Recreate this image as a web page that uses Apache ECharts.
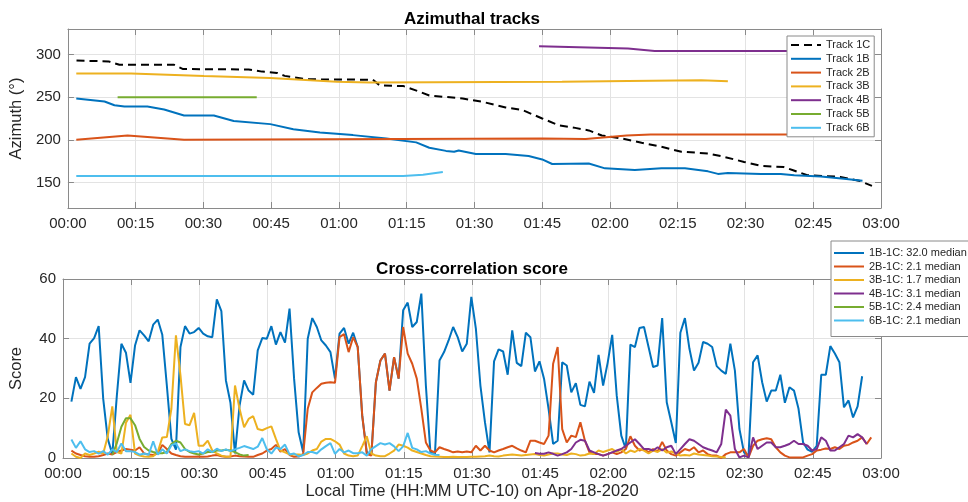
<!DOCTYPE html>
<html><head><meta charset="utf-8">
<script src="https://cdn.jsdelivr.net/npm/echarts@6/dist/echarts.min.js"></script>
<style>html,body{margin:0;padding:0;background:#fff}#c{width:968px;height:502px}</style>
</head><body><div id="c"></div>
<script>
// ---------------- DATA ----------------
// x axis (minutes after 00:00 local time)
const xTickLabels = ['00:00','00:15','00:30','00:45','01:00','01:15','01:30','01:45','02:00','02:15','02:30','02:45','03:00'];
const yTopTicks = [150, 200, 250, 300];
const yBottomTicks = [0, 20, 40, 60];

// Azimuthal tracks: time (min) and azimuth (deg)
const track1C_t  = [1.9,9.0,11.4,23.5,25.5,40,43,46.3,48,52.8,67.5,69,74.3,77,80,87.4,91.8,96.9,100.6,105,108.7,112.3,115.3,118.2,122.6,127,131.4,135.8,141.7,145.3,149.7,153.4,158.5,160.7,163.7,171,175.4,178];
const track1C_az = [293,292,288,288,283,282.5,280,278.5,275,271,270.5,264,263,258,252,248.5,244.5,238,235,225,217,214,211,205,201.6,196.5,191.8,186,184,180,174,169.5,168,164,158.5,156.5,151.6,146];
const track1B_t  = [1.85,8.1,10.3,12.5,17.6,21.3,25.7,32.3,36.7,44.8,49.9,55.8,63.1,70.5,77.1,80,83.7,85.5,86.5,90.3,96.9,102,105,107.2,115.3,118.9,125.5,131.4,136.6,141.7,143.9,146.1,153.4,157.8,160.8,166.7,171.8,175.9];
const track1B_az = [248.5,245,240.6,239,239,235.6,228.6,228.6,222,218.4,212.5,208.6,205.5,201.6,197,190.7,187,186,187.5,183.3,183.3,181,177,171.6,172.3,166.5,164.5,166.5,166.5,163,160,161,160,160,158.4,157,154.3,152];
const track2B_t  = [1.85,13.2,25.7,105,114.6,123.7,129,176];
const track2B_az = [200,205,200,201.5,201,205,206.2,206.2];
const track3B_t  = [1.85,14,30.1,44.8,59.5,66.8,109.4,124,140.2,146.1];
const track3B_az = [277.8,277.8,275,272.6,268,267.2,268,269,270,268.7];
const track4B_t  = [104.3,124,129.9,176];
const track4B_az = [309.7,307,304.3,304.3];
const track5B_t  = [11,41.8];
const track5B_az = [250,250];
const track6B_t  = [1.85,74.2,78.6,83];
const track6B_az = [157.6,157.6,159,162.3];

// Cross-correlation scores, one sample per minute starting at sampleStartMin
const sampleStartMin = 1.85;
const sampleStepMin = 1;
const score1B_start = 0;
const score1B = [18.9,27.1,23.2,27.1,38.3,40.2,44.2,19.8,6.4,1.3,
20.9,38.3,35.3,25.2,37.7,42.8,41.1,39.1,44.7,46.4,
41.3,24.3,6.4,2.8,37.2,44.2,41.7,42.2,43.6,41.7,
40.8,40.5,53.2,49.2,26,18.5,1.5,17.6,26,22.6,
21.2,36.1,40.2,40,44.2,38,42.2,38.7,50.1,26.6,
8.6,1.9,40,46.9,43.9,39.4,37.7,35.5,26.6,41.7,
43.6,38.3,42,37.2,14,2,1,25.4,32.7,35,
22.6,33.8,26.6,49.5,52.1,43.9,45.6,55.1,24.3,1.9,
1.3,32.7,35.5,39.4,43.9,40.5,35.7,38.3,54,43.4,
24.3,12,1.9,32.4,36.4,35.7,27.9,42.8,31.9,30.8,
42,40.5,29,32.4,26.6,16.5,4.7,5.8,32.1,31,
22,25.1,17.8,17.3,25.6,21.8,34.6,24.3,31.9,41.3,
20.9,7.5,3,38,37.2,43.6,43.9,37.2,30.5,31,
46.9,18.7,12,5,42,46.9,36.6,29.3,31.9,38.9,
38.3,37.2,30.8,29.3,28.2,38.3,29.3,9.7,1.9,0.8,
32.1,34.4,25.4,18.9,22.6,22.6,27.9,18.5,23.7,22.6,
16.5,5.2,2.8,2.1,4.1,27.9,27.9,37.5,35,32.1,
17,19.3,13.6,17.3,27.4];
const score2B_start = 0;
const score2B = [2.5,1.5,1.0,0.6,0.4,0.4,0.6,1.0,1.5,1.2,2.0,2.5,3.0,2.8,2.5,3.6,1.5,1.2,1.0,1.5,4.4,3.0,1.5,1.0,0.6,0.4,0.4,0.4,0.5,0.4,0.5,0.8,1.0,0.6,0.4,0.5,0.8,0.6,0.5,0.4,0.4,1.0,1.5,2.5,3.0,4.4,2.1,3.0,1.0,0.4,0.5,
1.3,16.5,22,23.5,24.9,25.2,25.4,25.2,40.5,41.5,35.5,40.5,37.2,14.2,1.3,0.8,25.4,32.7,35,22.6,33.8,26.6,43.9,35,31.6,26.6,16.5,5.2,2.5,1.9,
3.6,3,2.5,1.9,2.2,1.9,2.2,1.9,4.1,2.5,
4.1,2.5,1.9,2.5,3,3.6,4.1,3.2,2.5,1.9,
5.8,5.8,5.2,4.7,7.5,31.6,37.2,9.7,5.2,7.5,
7,12,5.8,1.9,1.3,1.3,0.8,1.3,1.9,1.3,
1.9,3,7.3,4.1,2.5,3,1.9,3,2.2,5.4,
2.5,1.3,0.8,1.9,3,2.5,3.6,1.9,2.5,1.3,
0.8,0.8,0,1.3,1.9,1.9,1.9,3,0.2,4.1,
5.8,6.3,6.6,6.3,3.6,1.9,0.8,0.2,0.2,0.2,
0.2,0.8,1.3,2.5,2.8,3.2,3,3.6,3,4.1,
4.4,5.2,5.8,6.9,4.7,6.9];
const score3B_start = 0;
const score3B = [1.5,0.4,0,1.5,1,1.5,2.1,1.5,7.3,17.3,
2,1.5,11.8,14.5,1.5,0.8,0.5,0.4,0.6,2,
6.9,7,16.5,41.1,27.7,11.4,11,15.1,4.1,4.1,
5.8,2.5,1.5,0.8,0.4,0.5,24.3,16.5,10.3,13.1,
14,9.7,9.3,10,10.6,6.4,2.5,1.9,1.2,1.2,
1.2,1,1.5,2.5,3,5.5,6.4,6.4,5.6,4.5,
1.5,0.8,0.6,0.8,4,7.3,1.5,0.8,0.6,0.6,
1.5,2.5,4.5,4.1,3.5,2.5,2,1.5,1.0,0.6,0.5,
0.4,0.3,0.3,0.4,0.3,0.3,0.3,0.4,0.4,0.5,
0.6,0.8,0.6,0.5,0.8,1.0,1.2,1.0,0.8,1.0,
1.2,1.3,1.0,0.8,1.2,1.5,1.5,1.2,1.0,1.5,
1.3,0.8,1.0,1.5,1.3,2.5,2.0,2.5,3.0,2.0,
3.0,1.5,2.5,2.0,3.0,2.5,1.5,2.5,2.0,3.0,
1.8,2.2,1.5,0.8,1.0,0.8,1.5,1.2,1.0,0.8,
0.6,0.5,0.3,0.2];
const score4B_start = 102;
const score4B = [1.7,1.4,1.4,1.9,1.4,0.8,1.3,1.9,3,5.2,
6.1,5.8,2.5,1.9,1.3,0.8,1.3,1.9,2.5,3,
4.1,5.2,6.3,4.7,3,3,2.5,3.6,2.5,3.6,
4.1,1.3,3,4.7,6.3,5.8,4.7,3.6,3,2.5,
1.9,4.7,16.2,14.2,3,0.2,0.8,0.2,6.9,3,
4.1,5.2,5.2,3.6,3.6,4.1,4.7,5.8,4.7,4.7,
4.1,2.5,3,6.9,5.8,2.5,2.5,3.6,4.7,7.5,
6.9,8,6.9,4.7];
const score5B_start = 9;
const score5B = [1,5,10.5,13.3,13.3,11,6.4,3.7,2.5,2,1.6,1.6,2,4.7,5.8,5.2,3,2,1.5,1.2,1.5,2,2,2.5,2.5,2.8,2.5,2,1.2,0.8,1];
const score6B_start = 0;
const score6B = [6.2,3.4,5.6,2.9,2,2.3,1.5,2.3,1.1,2.9,
2,4.9,2.3,2.3,2,1.1,1.5,1.1,5.6,1.1,
2.9,1.5,4.3,4.9,2.3,2.9,2.3,2,2.3,1.5,
2.9,2,3.1,2.3,2.9,2.3,2.9,3.4,4,3.5,
3,3.8,6.7,2.9,1.5,3.5,3,4.5,1.2,1.5,
0.5,1,2,2,1.5,2.9,4,5,1.4,3,
1.9,2.5,1.6,1.6,1.9,0.8,3,4,5,4.5,
5,3.9,2.3,3.9,8.4,3.4,2.9,2,2.3,1.5,
1.1,1.0];

const trackNames = ['Track 1C','Track 1B','Track 2B','Track 3B','Track 4B','Track 5B','Track 6B'];
const scoreNames = ['1B-1C: 32.0 median','2B-1C: 2.1 median','3B-1C: 1.7 median','4B-1C: 3.1 median','5B-1C: 2.4 median','6B-1C: 2.1 median'];

// ---------------- CHART ----------------
const FONT = '"Liberation Sans", Arial, Helvetica, sans-serif';
const TXT = '#262626', AX = '#8a8a8a', GRIDC = '#e3e3e3';
const COLS = ['#0072BD','#D95319','#EDB120','#7E2F8E','#77AC30','#4DBEEE'];

function zip(t, v){ return t.map((x,i)=>[x, v[i]]); }
function samples(start, vals){ return vals.map((v,i)=>[sampleStartMin + (start+i)*sampleStepMin, v]); }

function xAx(grid, pos, labels, name){
  return {type:'value', gridIndex:grid, position:pos, min:0, max:180, interval:15,
    axisLine:{show:true, onZero:false, lineStyle:{color:AX, width:1}},
    axisTick:{show:true, inside:true, length:6, lineStyle:{color:AX}},
    axisLabel:{show:labels, margin:8, color:TXT, fontSize:15, fontFamily:FONT, showMinLabel:true, showMaxLabel:true,
      formatter: v => xTickLabels[Math.round(v/15)]},
    splitLine:{show:pos==='bottom', lineStyle:{color:GRIDC}},
    name: name || '', nameLocation:'middle', nameGap:25,
    nameTextStyle:{color:TXT, fontSize:16.5, fontFamily:FONT}};
}
function yAx(grid, pos, labels, min, max, ticks, name){
  return {type:'value', gridIndex:grid, position:pos, min:min, max:max,
    axisLine:{show:true, onZero:false, lineStyle:{color:AX, width:1}},
    axisTick:{show:true, inside:true, length:6, lineStyle:{color:AX}, customValues:ticks},
    axisLabel:{show:labels, margin:7, color:TXT, fontSize:15, fontFamily:FONT, customValues:ticks},
    splitLine:{show:pos==='left', lineStyle:{color:GRIDC}},
    name: name || '', nameLocation:'middle', nameGap:38,
    nameTextStyle:{color:TXT, fontSize:16.5, fontFamily:FONT}};
}

const topT = [track1C_t, track1B_t, track2B_t, track3B_t, track4B_t, track5B_t, track6B_t];
const topV = [track1C_az, track1B_az, track2B_az, track3B_az, track4B_az, track5B_az, track6B_az];
const series = [];
trackNames.forEach((n,i)=>{
  series.push({name:n, type:'line', xAxisIndex:0, yAxisIndex:0, data: zip(topT[i], topV[i]),
    symbol:'none', showSymbol:false, silent:true,
    lineStyle: i===0 ? {color:'#000', width:2, type:[8,5]} : {color:COLS[i-1], width:2},
    itemStyle:{color: i===0 ? '#000' : COLS[i-1]}});
});
const sStarts = [score1B_start, score2B_start, score3B_start, score4B_start, score5B_start, score6B_start];
const sVals = [score1B, score2B, score3B, score4B, score5B, score6B];
scoreNames.forEach((n,i)=>{
  series.push({name:n, type:'line', xAxisIndex:2, yAxisIndex:2, data: samples(sStarts[i], sVals[i]),
    symbol:'none', showSymbol:false, silent:true,
    lineStyle:{color:COLS[i], width:2}, itemStyle:{color:COLS[i]}});
});

const legendCommon = {orient:'vertical', backgroundColor:'#fff', borderColor:'#8a8a8a', borderWidth:1, borderRadius:0,
  itemHeight:12, selectedMode:false,
  itemStyle:{color:'rgba(0,0,0,0)', borderColor:'rgba(0,0,0,0)', borderWidth:0, opacity:0},
  textStyle:{color:TXT, fontSize:11, fontFamily:FONT, lineHeight:12}};

const option = {
  animation:false,
  backgroundColor:'#fff',
  title:[
    {text:'Azimuthal tracks', left:472, top:11, textAlign:'center', padding:0,
      textStyle:{fontSize:17, fontWeight:'bold', color:'#000', fontFamily:FONT}},
    {text:'Cross-correlation score', left:472, top:261, textAlign:'center', padding:0,
      textStyle:{fontSize:17, fontWeight:'bold', color:'#000', fontFamily:FONT}}
  ],
  grid:[
    {left:63, right:87, top:29, height:179},
    {left:63, right:87, top:279, height:179}
  ],
  xAxis:[ xAx(0,'bottom',true), xAx(0,'top',false), xAx(1,'bottom',true,'Local Time (HH:MM UTC-10) on Apr-18-2020'), xAx(1,'top',false) ],
  yAxis:[ yAx(0,'left',true,120,330,yTopTicks,'Azimuth (°)'), yAx(0,'right',false,120,330,yTopTicks),
          yAx(1,'left',true,0,60,yBottomTicks,'Score'), yAx(1,'right',false,0,60,yBottomTicks) ],
  legend:[
    Object.assign({}, legendCommon, {data:trackNames, left:787, top:36, padding:[3,4,3,3], itemWidth:30, itemGap:1.8}),
    Object.assign({}, legendCommon, {data:scoreNames, left:831, top:241, padding:[6,3,10,2], itemWidth:30, itemGap:1.5})
  ],
  series: series
};
const chart = echarts.init(document.getElementById('c'), null, {renderer:'canvas'});
chart.setOption(option);
</script>
</body></html>
